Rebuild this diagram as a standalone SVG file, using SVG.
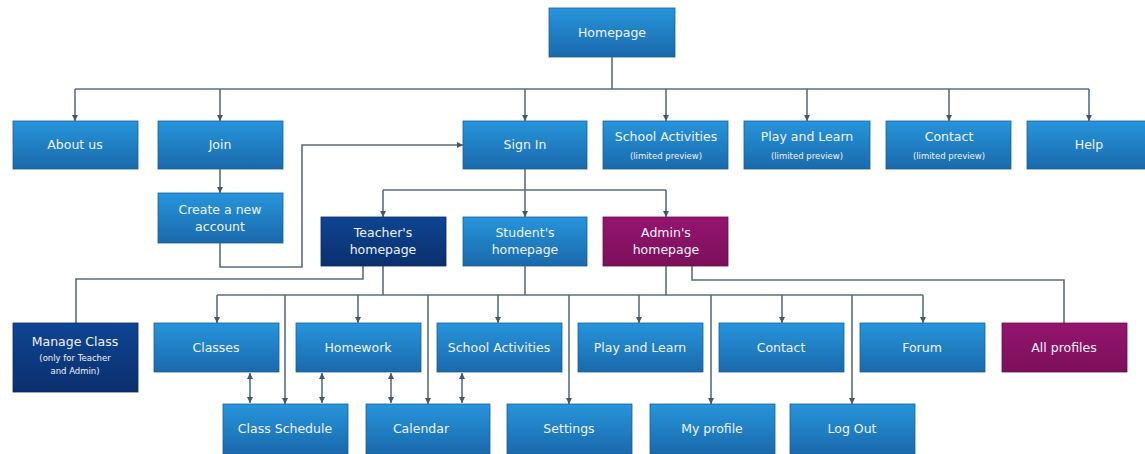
<svg xmlns="http://www.w3.org/2000/svg" width="1145" height="454" viewBox="0 0 1145 454">
<defs>
<linearGradient id="gBlue" x1="0" y1="0" x2="0" y2="1">
<stop offset="0" stop-color="#2795dc"/>
<stop offset="1" stop-color="#1a69ab"/>
</linearGradient>
<linearGradient id="gNavy" x1="0" y1="0" x2="0" y2="1">
<stop offset="0" stop-color="#0f4594"/>
<stop offset="1" stop-color="#0a2f6c"/>
</linearGradient>
<linearGradient id="gPurple" x1="0" y1="0" x2="0" y2="1">
<stop offset="0" stop-color="#94156e"/>
<stop offset="1" stop-color="#7c0f5a"/>
</linearGradient>
<marker id="ah" viewBox="0 0 8 8" refX="8" refY="4" markerWidth="7" markerHeight="6" markerUnits="userSpaceOnUse" orient="auto-start-reverse">
<path d="M0,0 L8,4 L0,8 Z" fill="#44586a"/>
</marker>
<style>
.b{fill:url(#gBlue);stroke:#1b5f96;stroke-width:0.8}
.n{fill:url(#gNavy);stroke:#0a2a60;stroke-width:0.8}
.p{fill:url(#gPurple);stroke:#6a0c4c;stroke-width:0.8}
text{font-family:"DejaVu Sans",Verdana,sans-serif;fill:#eef4fa;text-anchor:middle;font-size:12.5px}
.s{font-size:8.5px}
.c path{fill:none;stroke:#5a6e7e;stroke-width:1.6}
</style>
</defs>
<rect width="1145" height="454" fill="#ffffff"/>
<g class="c" id="connectors">
<path d="M612,57 V89"/>
<path d="M75,89 H1089"/>
<path d="M75,89 V121" marker-end="url(#ah)"/>
<path d="M220,89 V121" marker-end="url(#ah)"/>
<path d="M525,89 V121" marker-end="url(#ah)"/>
<path d="M666,89 V121" marker-end="url(#ah)"/>
<path d="M807,89 V121" marker-end="url(#ah)"/>
<path d="M949,89 V121" marker-end="url(#ah)"/>
<path d="M1089,89 V121" marker-end="url(#ah)"/>
<path d="M220,169 V193" marker-end="url(#ah)"/>
<path d="M220,243 V267 H302 V145 H463" marker-end="url(#ah)"/>
<path d="M525,169 V190"/>
<path d="M383,190 H666"/>
<path d="M383,190 V217" marker-end="url(#ah)"/>
<path d="M525,190 V217" marker-end="url(#ah)"/>
<path d="M666,190 V217" marker-end="url(#ah)"/>
<path d="M363,266 V279 H76 V323"/>
<path d="M692,266 V280 H1064 V323"/>
<path d="M217,295 H923"/>
<path d="M383,266 V295"/>
<path d="M525,266 V295"/>
<path d="M666,266 V295"/>
<path d="M217,295 V323" marker-end="url(#ah)"/>
<path d="M358,295 V323" marker-end="url(#ah)"/>
<path d="M498,295 V323" marker-end="url(#ah)"/>
<path d="M639,295 V323" marker-end="url(#ah)"/>
<path d="M782,295 V323" marker-end="url(#ah)"/>
<path d="M923,295 V323" marker-end="url(#ah)"/>
<path d="M285,295 V404" marker-end="url(#ah)"/>
<path d="M428,295 V404" marker-end="url(#ah)"/>
<path d="M569,295 V404" marker-end="url(#ah)"/>
<path d="M711,295 V404" marker-end="url(#ah)"/>
<path d="M852,295 V404" marker-end="url(#ah)"/>
<path d="M250,373 V403" marker-start="url(#ah)" marker-end="url(#ah)"/>
<path d="M322,373 V403" marker-start="url(#ah)" marker-end="url(#ah)"/>
<path d="M391,373 V403" marker-start="url(#ah)" marker-end="url(#ah)"/>
<path d="M462,373 V403" marker-start="url(#ah)" marker-end="url(#ah)"/>
</g>
<g id="homepage"><rect class="b" x="549" y="8" width="126" height="49"/><text x="612" y="37">Homepage</text></g>
<g id="about"><rect class="b" x="13" y="121" width="125" height="48"/><text x="75" y="149">About us</text></g>
<g id="join"><rect class="b" x="158" y="121" width="125" height="48"/><text x="220" y="149">Join</text></g>
<g id="signin"><rect class="b" x="463" y="121" width="124" height="48"/><text x="525" y="149">Sign In</text></g>
<g id="schoolact1"><rect class="b" x="603" y="121" width="125" height="48"/><text x="666" y="141">School Activities</text><text class="s" x="666" y="159">(limited preview)</text></g>
<g id="play1"><rect class="b" x="744" y="121" width="126" height="48"/><text x="807" y="141">Play and Learn</text><text class="s" x="807" y="159">(limited preview)</text></g>
<g id="contact1"><rect class="b" x="886" y="121" width="125" height="48"/><text x="949" y="141">Contact</text><text class="s" x="949" y="159">(limited preview)</text></g>
<g id="help"><rect class="b" x="1027" y="121" width="125" height="48"/><text x="1089" y="149">Help</text></g>
<g id="create"><rect class="b" x="158" y="193" width="125" height="50"/><text x="220" y="214">Create a new</text><text x="220" y="231">account</text></g>
<g id="teacher"><rect class="n" x="321" y="217" width="125" height="49"/><text x="383" y="237">Teacher's</text><text x="383" y="254">homepage</text></g>
<g id="student"><rect class="b" x="463" y="217" width="124" height="49"/><text x="525" y="237">Student's</text><text x="525" y="254">homepage</text></g>
<g id="admin"><rect class="p" x="603" y="217" width="125" height="49"/><text x="666" y="237">Admin's</text><text x="666" y="254">homepage</text></g>
<g id="manage"><rect class="n" x="13" y="323" width="125" height="69"/><text x="75" y="346">Manage Class</text><text class="s" x="75" y="361">(only for Teacher</text><text class="s" x="75" y="374">and Admin)</text></g>
<g id="classes"><rect class="b" x="154" y="323" width="125" height="49"/><text x="216" y="352">Classes</text></g>
<g id="homework"><rect class="b" x="296" y="323" width="125" height="49"/><text x="358" y="352">Homework</text></g>
<g id="schoolact2"><rect class="b" x="437" y="323" width="125" height="49"/><text x="499" y="352">School Activities</text></g>
<g id="play2"><rect class="b" x="578" y="323" width="125" height="49"/><text x="640" y="352">Play and Learn</text></g>
<g id="contact2"><rect class="b" x="719" y="323" width="125" height="49"/><text x="781" y="352">Contact</text></g>
<g id="forum"><rect class="b" x="860" y="323" width="125" height="49"/><text x="922" y="352">Forum</text></g>
<g id="allprofiles"><rect class="p" x="1002" y="323" width="125" height="49"/><text x="1064" y="352">All profiles</text></g>
<g id="schedule"><rect class="b" x="223" y="404" width="125" height="50"/><text x="285" y="433">Class Schedule</text></g>
<g id="calendar"><rect class="b" x="366" y="404" width="124" height="50"/><text x="421" y="433">Calendar</text></g>
<g id="settings"><rect class="b" x="507" y="404" width="125" height="50"/><text x="569" y="433">Settings</text></g>
<g id="myprofile"><rect class="b" x="650" y="404" width="125" height="50"/><text x="712" y="433">My profile</text></g>
<g id="logout"><rect class="b" x="790" y="404" width="125" height="50"/><text x="852" y="433">Log Out</text></g>
</svg>
